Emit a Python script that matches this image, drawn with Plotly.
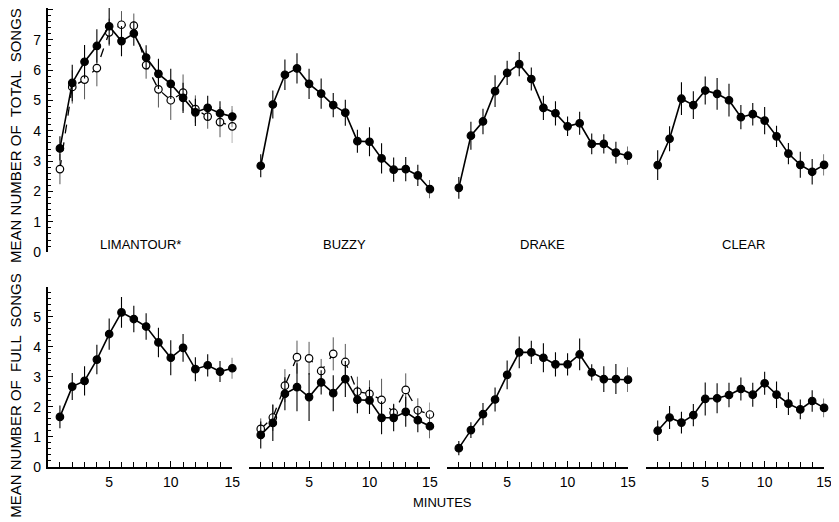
import plotly.graph_objects as go

minutes = list(range(1, 16))

# --- Mean number of total songs (top row) ---
lim_total_a = [3.42, 5.58, 6.28, 6.80, 7.45, 6.96, 7.21, 6.42, 5.88, 5.55, 5.09, 4.61, 4.76, 4.58, 4.47]
lim_total_a_err = [0.40, 0.60, 0.55, 0.55, 0.60, 0.50, 0.40, 0.40, 0.50, 0.50, 0.50, 0.45, 0.40, 0.40, 0.35]
lim_total_b = [2.74, 5.45, 5.69, 6.07, 7.25, 7.50, 7.47, 6.17, 5.37, 5.01, 5.26, 4.72, 4.47, 4.29, 4.15]
lim_total_b_err = [0.50, 0.55, 0.65, 0.60, 0.45, 0.45, 0.40, 0.45, 0.60, 0.65, 0.60, 0.45, 0.40, 0.50, 0.55]

buzzy_total = [2.85, 4.87, 5.85, 6.06, 5.55, 5.23, 4.85, 4.60, 3.66, 3.64, 3.09, 2.72, 2.74, 2.53, 2.08]
buzzy_total_err = [0.38, 0.46, 0.50, 0.50, 0.50, 0.50, 0.40, 0.43, 0.38, 0.48, 0.50, 0.40, 0.40, 0.35, 0.30]

drake_total = [2.12, 3.84, 4.31, 5.31, 5.91, 6.20, 5.71, 4.76, 4.58, 4.15, 4.25, 3.57, 3.57, 3.28, 3.18]
drake_total_err = [0.36, 0.46, 0.42, 0.52, 0.40, 0.40, 0.38, 0.40, 0.40, 0.32, 0.38, 0.34, 0.32, 0.36, 0.30]

clear_total = [2.87, 3.74, 5.06, 4.85, 5.33, 5.22, 5.01, 4.45, 4.55, 4.34, 3.82, 3.25, 2.88, 2.65, 2.88]
clear_total_err = [0.49, 0.41, 0.54, 0.46, 0.46, 0.52, 0.54, 0.40, 0.37, 0.45, 0.35, 0.35, 0.43, 0.42, 0.35]

# --- Mean number of full songs (bottom row) ---
lim_full = [1.66, 2.67, 2.86, 3.57, 4.42, 5.14, 4.92, 4.67, 4.14, 3.63, 3.96, 3.25, 3.38, 3.17, 3.28]
lim_full_err = [0.38, 0.45, 0.49, 0.49, 0.52, 0.51, 0.44, 0.44, 0.49, 0.58, 0.46, 0.40, 0.37, 0.35, 0.35]

buzzy_full_a = [1.06, 1.46, 2.43, 2.65, 2.32, 2.81, 2.45, 2.92, 2.23, 2.21, 1.63, 1.63, 1.83, 1.55, 1.35]
buzzy_full_a_err = [0.45, 0.60, 0.55, 0.80, 0.80, 0.40, 0.60, 0.60, 0.45, 0.45, 0.55, 0.45, 0.50, 0.40, 0.40]
buzzy_full_b = [1.26, 1.64, 2.70, 3.65, 3.61, 3.19, 3.76, 3.49, 2.50, 2.43, 2.23, 1.80, 2.56, 1.88, 1.74]
buzzy_full_b_err = [0.35, 0.45, 0.55, 0.55, 0.55, 0.40, 0.55, 0.60, 0.50, 0.45, 0.70, 0.30, 0.55, 0.40, 0.40]

drake_full = [0.62, 1.22, 1.75, 2.24, 3.06, 3.81, 3.81, 3.63, 3.41, 3.41, 3.74, 3.14, 2.92, 2.92, 2.90]
drake_full_err = [0.24, 0.26, 0.37, 0.40, 0.48, 0.53, 0.39, 0.48, 0.40, 0.37, 0.53, 0.27, 0.43, 0.50, 0.41]

clear_full = [1.20, 1.64, 1.47, 1.72, 2.26, 2.28, 2.39, 2.59, 2.40, 2.78, 2.40, 2.10, 1.91, 2.19, 1.96]
clear_full_err = [0.34, 0.38, 0.36, 0.37, 0.55, 0.50, 0.41, 0.38, 0.40, 0.38, 0.44, 0.38, 0.33, 0.36, 0.31]

panel_names = ["LIMANTOUR*", "BUZZY", "DRAKE", "CLEAR"]
y_tick_top = [0, 1, 2, 3, 4, 5, 6, 7, 8]
y_tick_top_text = ["0", "1", "2", "3", "4", "5", "6", "7", ""]
y_tick_bot = [0, 1, 2, 3, 4, 5, 6]
y_tick_bot_text = ["0", "1", "2", "3", "4", "5", ""]
x_tick_vals = [5, 10, 15]
x_tick_text = ["5", "10", "15"]

# the page body has an 8px margin; the figure is sized to fill the rest of the window
OFF = 8
W, H = 839 - OFF, 522 - OFF
FONT = "Liberation Sans, Arial, sans-serif"

def fx(p):
    return (p - OFF) / W

def fy(p):
    return 1 - (p - OFF) / H

col_px = [(48, 234.5), (251, 434), (451, 634), (652, 832)]
top_px = (8, 256)
bot_px = (291, 474)
top_unit = 30.8

fig = go.Figure()

def add_series(k, y, err, open_marker=False):
    ax = "" if k == 1 else str(k)
    fig.add_trace(go.Scatter(
        x=minutes, y=y,
        xaxis="x" + ax, yaxis="y" + ax,
        mode="lines+markers",
        line=dict(color="black", width=1.6 if not open_marker else 1.3,
                  dash="dash" if open_marker else "solid"),
        marker=dict(size=7.5, color="white" if open_marker else "black",
                    line=dict(color="black", width=1.2)),
        error_y=dict(type="data", array=err, visible=True, width=0,
                     thickness=1.1 if not open_marker else 0.9,
                     color="black" if not open_marker else "#444"),
        showlegend=False, hoverinfo="skip",
        cliponaxis=False,
    ))

add_series(1, lim_total_b, lim_total_b_err, open_marker=True)
add_series(1, lim_total_a, lim_total_a_err)
add_series(2, buzzy_total, buzzy_total_err)
add_series(3, drake_total, drake_total_err)
add_series(4, clear_total, clear_total_err)
add_series(5, lim_full, lim_full_err)
add_series(6, buzzy_full_b, buzzy_full_b_err, open_marker=True)
add_series(6, buzzy_full_a, buzzy_full_a_err)
add_series(7, drake_full, drake_full_err)
add_series(8, clear_full, clear_full_err)

layout = dict(
    width=W, height=H,
    margin=dict(l=0, r=0, t=0, b=0),
    paper_bgcolor="white", plot_bgcolor="white",
    font=dict(family=FONT, size=14, color="black"),
)

for k in range(1, 9):
    col = (k - 1) % 4
    top = k <= 4
    ax = "" if k == 1 else str(k)
    xd = [fx(col_px[col][0]), fx(col_px[col][1])]
    ypx = top_px if top else bot_px
    yd = [fy(ypx[1]), fy(ypx[0])]
    xa = dict(domain=xd, range=[0, 15], anchor="y" + ax, showgrid=False,
              zeroline=False, fixedrange=True)
    if top:
        xa.update(visible=False)
    else:
        xa.update(showline=True, linecolor="black", linewidth=1.5,
                  ticks="inside", ticklen=6, tickwidth=1.2, tickcolor="black",
                  tickmode="array", tickvals=x_tick_vals, ticktext=x_tick_text,
                  ticklabelstandoff=2,
                  minor=dict(tickmode="linear", tick0=0, dtick=1, ticks="inside",
                             ticklen=5, tickwidth=1.2, tickcolor="black"),
                  tickfont=dict(size=14))
    if top:
        yr = [0, (ypx[1] - ypx[0]) / top_unit]
    else:
        yr = [0, 6]
    ya = dict(domain=yd, range=yr, anchor="x" + ax, showgrid=False,
              zeroline=False, fixedrange=True)
    if col == 0:
        ya.update(showline=True, linecolor="black", linewidth=1.5,
                  ticks="inside", ticklen=6, tickwidth=1.2, tickcolor="black",
                  tickmode="array",
                  tickvals=y_tick_top if top else y_tick_bot,
                  ticktext=y_tick_top_text if top else y_tick_bot_text,
                  minor=dict(tickmode="linear", tick0=0, dtick=0.2, ticks="inside",
                             ticklen=4, tickwidth=1, tickcolor="black"),
                  ticklabelstandoff=2,
                  tickfont=dict(size=14))
    else:
        ya.update(visible=False)
    layout["xaxis" + ax] = xa
    layout["yaxis" + ax] = ya

annotations = []
label_x = [142, 348, 548, 751]
for name, lx in zip(panel_names, label_x):
    annotations.append(dict(text=name, x=fx(lx), y=fy(248), xref="paper", yref="paper",
                            showarrow=False, font=dict(size=13), xanchor="center",
                            yanchor="middle"))
annotations.append(dict(text="MEAN NUMBER OF \u00a0TOTAL \u00a0SONGS", x=fx(16), y=fy(137),
                        xref="paper", yref="paper", showarrow=False, textangle=-90,
                        font=dict(size=15), xanchor="center", yanchor="middle"))
annotations.append(dict(text="MEAN NUMBER OF \u00a0FULL \u00a0SONGS", x=fx(16), y=fy(402),
                        xref="paper", yref="paper", showarrow=False, textangle=-90,
                        font=dict(size=15), xanchor="center", yanchor="middle"))
annotations.append(dict(text="MINUTES", x=fx(447), y=fy(510), xref="paper", yref="paper",
                        showarrow=False, font=dict(size=13), xanchor="center",
                        yanchor="middle"))
layout["annotations"] = annotations

fig.update_layout(**layout)
fig.write_html("out.html")
